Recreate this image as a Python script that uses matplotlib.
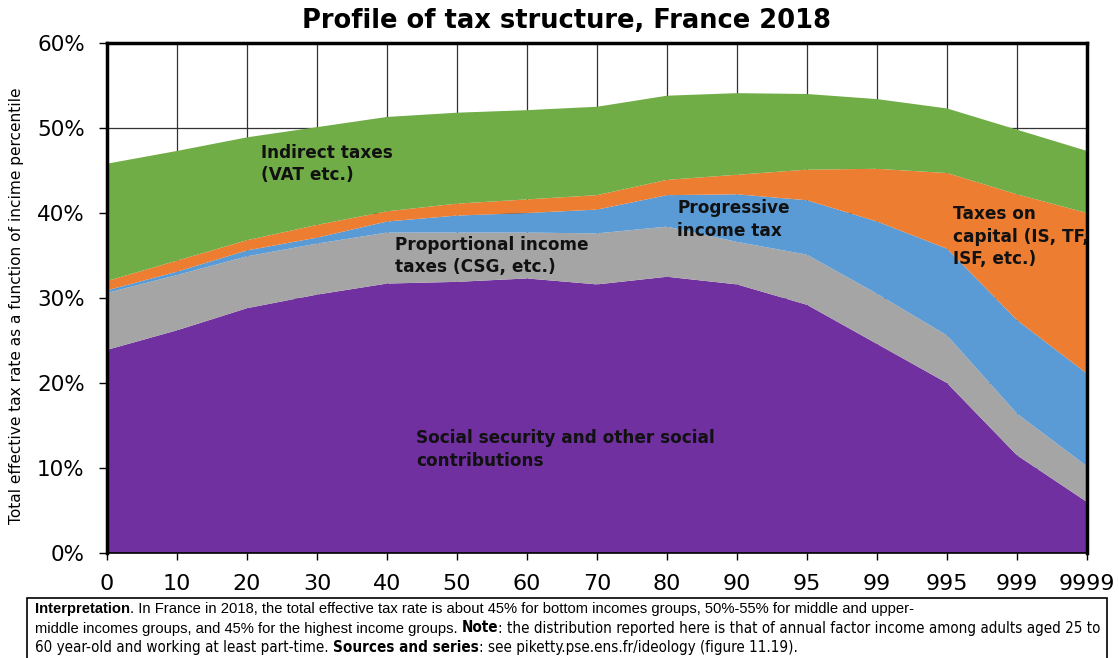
import numpy as np
import matplotlib
matplotlib.use("Agg")
import matplotlib.pyplot as plt
from matplotlib.patches import Rectangle
from matplotlib import font_manager as fm

plt.rcParams['font.family'] = ['DejaVu Sans']

# income groups (percentiles)
groups = ["0", "10", "20", "30", "40", "50", "60", "70", "80", "90",
          "95", "99", "995", "999", "9999"]

# tax rates by component, % of income
social = [23.9, 26.2, 28.8, 30.4, 31.7, 31.9, 32.3, 31.6, 32.5, 31.6,
          29.2, 24.6, 20.0, 11.5, 6.0]
proportional = [6.7, 6.5, 6.1, 6.0, 6.0, 5.8, 5.4, 6.0, 5.9, 5.0,
                5.9, 5.9, 5.6, 4.9, 4.2]
progressive = [0.3, 0.4, 0.7, 0.7, 1.3, 2.0, 2.3, 2.8, 3.7, 5.6,
               6.4, 8.5, 10.2, 11.0, 10.9]
capital = [1.1, 1.3, 1.2, 1.5, 1.2, 1.4, 1.6, 1.7, 1.8, 2.3,
           3.6, 6.2, 8.9, 14.8, 18.9]
indirect = [13.8, 12.9, 12.1, 11.5, 11.1, 10.7, 10.5, 10.4, 9.9, 9.6,
            8.9, 8.2, 7.6, 7.6, 7.3]

colors = ["#7030A0", "#A5A5A5", "#5B9BD5", "#ED7D31", "#70AD47"]

W, H = 1119, 658
fig = plt.figure(figsize=(W / 100, H / 100), dpi=100)
ax = fig.add_axes([107 / W, 1 - 553 / H, 980 / W, 510 / H])

x = np.arange(len(groups))
ax.stackplot(x, social, proportional, progressive, capital, indirect,
             colors=colors, linewidth=0, zorder=2)

ax.set_xlim(0, len(groups) - 1)
ax.set_ylim(0, 60)
ax.set_yticks(np.arange(0, 61, 10))
ax.set_yticklabels([f"{v}%" for v in range(0, 61, 10)], fontsize=15.5)
ax.set_xticks(x)
ax.set_xticklabels(groups, fontsize=16)
ax.tick_params(axis='y', direction='out', length=6, width=1, pad=10)
ax.tick_params(axis='x', direction='out', length=5, width=1, pad=10)
ax.grid(True, color='#333333', linewidth=0.9, zorder=1)
ax.set_axisbelow(True)

for side in ['top', 'right', 'left']:
    ax.spines[side].set_linewidth(2.5)
ax.spines['bottom'].set_linewidth(1.2)

fig.text(17 / W, 1 - 306 / H,
         "Total effective tax rate as a function of incime percentile",
         fontsize=11.1, rotation=90, ha='center', va='center')
fig.text(567 / W, 1 - 21 / H, "Profile of tax structure, France 2018",
         fontsize=18.5, fontweight='bold', ha='center', va='center')

lab = dict(fontsize=12.2, fontweight='bold', color='#111111', va='top',
           ha='left', linespacing=1.3, zorder=5)
ax.text(2.196, 48.1, "Indirect taxes\n(VAT etc.)", **lab)
ax.text(4.114, 37.3, "Proportional income\ntaxes (CSG, etc.)", **lab)
ax.text(8.143, 41.6, "Progressive\nincome tax", **lab)
ax.text(12.086, 40.9, "Taxes on\ncapital (IS, TF,\nISF, etc.)", **lab)
ax.text(4.414, 14.55, "Social security and other social\ncontributions", **lab)

# footnote box
fig.patches.append(Rectangle((27 / W, -0.05), 1080 / W, 0.05 + 60 / H,
                             transform=fig.transFigure, fill=False,
                             edgecolor='black', linewidth=1.2))

# 'r' regular, 'rb' regular bold, 'n' narrow, 'nb' narrow bold
note_lines = [
    [("Interpretation", 'rb'),
     (". In France in 2018, the total effective tax rate is about 45% for bottom incomes groups, "
      "50%-55% for middle and upper-", 'r')],
    [("middle incomes groups, and 45% for the highest income groups. ", 'r'),
     ("Note", 'nb'),
     (": the distribution reported here is that of annual factor income among adults aged 25 to", 'n')],
    [("60 year-old and working at least part-time. ", 'n'),
     ("Sources and series", 'nb'),
     (": see piketty.pse.ens.fr/ideology (figure 11.19).", 'n')],
]

cond_path = fm.findfont(fm.FontProperties(family='DejaVu Sans', stretch='condensed'))
if 'Condensed' in cond_path:
    narrow = dict(family='DejaVu Sans', fontstretch='condensed', fontsize=10.9)
else:
    narrow = dict(family='Liberation Sans', fontsize=9.3)
regular = dict(family='Liberation Sans', fontsize=10.6)
styles = {'r': dict(regular, fontweight='normal'),
          'rb': dict(regular, fontweight='bold'),
          'n': dict(narrow, fontweight='normal'),
          'nb': dict(narrow, fontweight='bold')}

renderer = fig.canvas.get_renderer()
for i, line in enumerate(note_lines):
    xp = 35 / W
    yp = 1 - (613 + i * 19.5) / H
    for txt, st in line:
        t = fig.text(xp, yp, txt, va='baseline', **styles[st])
        bb = t.get_window_extent(renderer=renderer)
        xp += bb.width / fig.bbox.width

fig.savefig("out.png", dpi=100)
